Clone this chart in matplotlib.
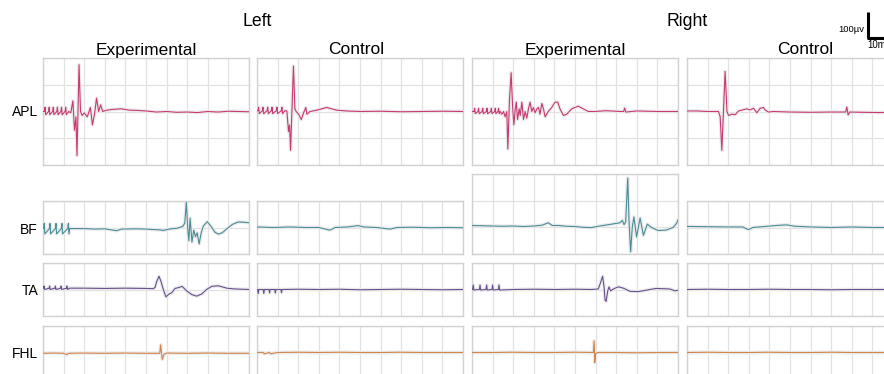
import matplotlib
matplotlib.use("Agg")
import matplotlib.pyplot as plt
from matplotlib.lines import Line2D

plt.rcParams['font.family'] = ['Liberation Sans', 'DejaVu Sans']

# ---------------- data (time in ms, amplitude in units of 100 µV) ----------------
side_labels = ["Left", "Right"]
group_labels = ["Experimental", "Control", "Experimental", "Control"]
muscles = ["APL", "BF", "TA", "FHL"]

# APL
apl_le_t = [0, 0.7, 1.0, 1.3, 2.7, 3.0, 3.3, 4.7, 5.0, 5.3, 6.7, 7.0, 7.3, 8.7, 9.0, 9.3,
            10.7, 11.0, 11.3, 12.5, 13.5, 14.5, 15.3, 16.0, 16.5, 17.5, 18.2, 19.0, 20.0,
            21.5, 23.0, 24.0, 25.0, 26.0, 27.0, 28.0, 29.0, 31, 34, 38, 42, 46, 50, 55,
            60, 65, 70, 75, 80, 85, 90, 95, 100]
apl_le_v = [0, 0, 0.16, -0.12, 0, 0.16, -0.12, 0, 0.16, -0.12, 0, 0.16, -0.12, 0, 0.16, -0.12,
            0, 0.16, -0.12, 0, -0.05, 0.4, -0.7, -0.2, -1.65, 1.75, 0, -0.15, -0.05,
            -0.2, 0.15, -0.5, -0.1, 0.5, 0, 0.25, 0, 0.05, 0.08, 0.1, 0.05, 0.04, 0.02, -0.02,
            0.0, -0.03, -0.02, -0.04, 0.0, -0.02, 0.01, 0.0, -0.01]

apl_lc_t = [0, 0.5, 0.8, 1.1, 2.6, 2.9, 3.2, 4.9, 5.2, 5.5, 7.0, 7.3, 7.6, 9.4, 9.7, 10.0,
            11.8, 12.1, 12.4, 13.5, 14.5, 15.3, 15.8, 16.3, 16.9, 17.7, 18.4, 19.0, 20.2,
            21.5, 22.6, 23.7, 24.2, 25.8, 29.0, 33.9, 38.7, 43.5, 50, 60, 70, 80, 90, 100]
apl_lc_v = [0.03, 0.03, 0.16, -0.08, 0.03, 0.16, -0.08, 0.03, 0.16, -0.08, 0.03, 0.16, -0.08, 0.03, 0.16, -0.08,
            0.03, 0.16, -0.08, 0.03, 0.02, -0.75, -0.5, -1.45, -0.1, 1.7, 0.1, 0.0, -0.1,
            -0.3, -0.05, 0.15, -0.1, 0.0, 0.05, 0.15, 0.05, 0.02, 0.0, 0.01, -0.01, 0.0, 0.01, 0.0]

apl_re_t = [0, 1.0, 1.3, 1.6, 2.9, 3.2, 3.5, 4.9, 5.2, 5.5, 7.0, 7.3, 7.6, 9.1, 9.4, 9.7,
            11.0, 11.3, 11.6, 12.6, 12.9, 13.2, 13.7, 14.5, 15.3, 16.1, 16.9, 17.4, 18.2,
            19.0, 19.7, 20.3, 21.0, 21.5, 22.1, 22.9, 23.4, 24.2, 25.0, 25.8, 26.6, 27.4,
            28.2, 29.0, 29.8, 30.6, 31.5, 32.3, 33.0, 33.9, 34.7, 35.5, 37.0, 38.7, 40.3,
            41.6, 42.7, 44.4, 46.0, 48.4, 51.6, 54.0, 56.5, 59.7, 65, 72, 73.6, 74.1, 74.6,
            80, 90, 100]
apl_re_v = [0, 0, 0.12, -0.08, 0, 0.12, -0.08, 0, 0.12, -0.08, 0, 0.12, -0.08, 0, 0.12, -0.08,
            0, 0.12, -0.08, 0, 0.12, -0.08, 0.0, -0.1, 0, -0.2, 0.0, -1.4, 0.45,
            1.45, 0.2, -0.5, 0.1, 0.35, -0.3, 0.1, -0.15, 0.35, -0.3, 0.0, -0.25, 0.1,
            0.35, 0.0, 0.15, -0.05, 0.1, 0.15, -0.1, 0.3, 0.1, -0.2, 0.0, 0.15, 0.35,
            0.35, 0.1, -0.15, -0.1, 0.1, 0.2, 0.1, 0.0, 0.0, 0.03, 0.0, 0.0, 0.13, -0.02,
            0.02, 0.0, 0.0]

apl_rc_t = [0, 5, 10, 15.3, 16.1, 16.9, 17.7, 18.5, 19.4, 20.2, 21.8, 23.4, 25.0, 29.0,
            30.6, 32.3, 33.9, 35.5, 37.1, 37.9, 39.5, 42.0, 50, 60, 70, 77.0, 77.6, 78.2,
            79.0, 85, 93.5, 100]
apl_rc_v = [0.02, 0.02, 0.0, 0.0, -0.2, -1.45, 0.0, 1.5, 0.0, -0.15, -0.1, -0.12, 0.02, 0.1,
            0.06, 0.12, -0.05, 0.12, 0.15, 0.06, -0.02, 0.0, -0.02, -0.03, -0.02, -0.02, 0.17, -0.13,
            -0.02, -0.03, -0.04, -0.03]

# BF
bf_le_t = [0, 0.3, 0.6, 0.9, 3.1, 3.4, 3.7, 6.0, 6.3, 6.6, 8.9, 9.2, 9.5, 12.0, 12.3, 12.6,
           13, 20, 25, 30, 35.8, 38, 45, 50, 56.8, 58.4, 62, 65, 67.8, 68.8, 69.6, 70.3,
           70.8, 71.4, 72.3, 73.2, 74.0, 74.8, 75.8, 76.8, 77.8, 79.7, 81.5,
           83.5, 85.1, 87, 89.2, 92, 94.8, 97, 100]
bf_le_v = [-0.04, -0.04, 0.15, -0.24, -0.04, 0.15, -0.24, -0.04, 0.15, -0.24, -0.04, 0.15, -0.24, -0.04, 0.15, -0.24,
           -0.04, -0.04, -0.06, -0.05, -0.12, -0.06, -0.05, -0.06, -0.09, -0.11, -0.05, -0.03, 0.04, 0.16, 0.95, -0.1,
           -0.5, 0.35, -0.55, -0.1, -0.35, -0.2, -0.62, -0.2, 0.05, 0.22, 0.05,
           -0.18, -0.25, -0.2, -0.05, 0.12, 0.21, 0.2, 0.18]

bf_lc_t = [0, 8, 16, 24, 30, 35.4, 38, 44, 49, 52, 58, 64.6, 68, 76, 84, 92, 100]
bf_lc_v = [0.02, 0.0, 0.02, 0.0, 0.0, -0.1, 0.0, 0.02, 0.07, 0.02, 0.0, -0.06, 0.0, 0.01, -0.01, 0.0, -0.01]

bf_re_t = [0, 5, 10, 15, 20, 25, 30, 34, 37, 39, 42, 46, 50, 54, 58, 62, 67, 71.8, 73.0,
           73.8, 74.6, 75.6, 76.2, 77.0, 77.8, 78.6, 79.9, 81.6, 83.2, 85.1, 87.0, 90.4,
           94.4, 97.7, 99.3, 100]
bf_re_v = [0.07, 0.06, 0.05, 0.04, 0.05, 0.03, 0.05, 0.08, 0.17, 0.07, 0.07, 0.04, 0.03, 0.0, -0.01, 0.05, 0.11, 0.17, 0.26,
           0.1, 0.2, 1.85, 0.3, -0.92, 0.0, 0.39, -0.36, 0.35, -0.3, 0.12, 0.0, -0.12,
           -0.1, 0.0, 0.15, 0.28]

bf_rc_t = [0, 10, 20, 27, 29.8, 32, 38, 44, 48.4, 52, 60, 70, 80, 90, 100]
bf_rc_v = [0.04, 0.03, 0.02, 0.02, -0.08, 0.0, 0.04, 0.08, 0.1, 0.05, 0.02, 0.0, 0.02, 0.0, 0.0]

# TA
ta_le_t = [0, 0.3, 0.5, 0.8, 3.0, 3.2, 3.5, 5.8, 6.0, 6.3, 8.6, 8.8, 9.1, 11.4, 11.6, 11.9,
           13, 20, 30, 40, 50, 53.5, 54.4, 55.2, 56.3, 57.3, 58.4, 59.7, 61.0, 62.5, 64.1,
           66.2, 67.5, 69.7, 72.2, 74.6, 77.0, 79.4, 81.9, 85.1, 87, 89.2, 93.2, 100]
ta_le_v = [0.05, 0.05, 0.13, 0.0, 0.05, 0.13, 0.0, 0.05, 0.13, 0.0, 0.05, 0.13, 0.0, 0.05, 0.13, 0.0,
           0.05, 0.05, 0.04, 0.05, 0.04, 0.03, 0.08, 0.3, 0.5, 0.3, 0.0, -0.28, -0.18, -0.12, 0.04,
           0.08, 0.12, -0.05, -0.19, -0.25, -0.17, 0.0, 0.12, 0.14, 0.1, 0.05, 0.02, 0.0]

ta_lc_t = [0, 0.3, 0.6, 0.9, 3.0, 3.3, 3.6, 5.8, 6.1, 6.4, 8.6, 8.9, 9.2, 11.6, 11.9, 12.2,
           20, 30, 40, 50, 60, 70, 80, 90, 100]
ta_lc_v = [0.0, 0.0, -0.15, 0.0, 0.0, -0.15, 0.0, 0.0, -0.13, 0.0, 0.0, -0.13, 0.0, 0.0, -0.12, 0.0,
           0.01, 0.0, 0.01, -0.01, 0.0, 0.01, 0.0, -0.01, 0.0]

ta_re_t = [0, 0.3, 0.6, 0.9, 3.6, 3.9, 4.2, 6.8, 7.1, 7.4, 9.7, 10.0, 10.3, 12.8, 13.1, 13.4,
           20, 30, 40, 50, 58, 61.3, 62.5, 63.4, 64.1, 64.6, 65.1, 65.9, 66.5, 67.3, 68.9,
           71.0, 73.5, 76.7, 80.7, 86.4, 89.4, 96, 98.5, 100]
ta_re_v = [0.0, 0.0, 0.17, -0.02, 0.0, 0.17, -0.02, 0.0, 0.17, -0.02, 0.0, 0.17, -0.02, 0.0, 0.17, -0.02,
           0.0, 0.01, 0.0, 0.01, 0.0, 0.02, 0.28, 0.5, 0.1, -0.4, -0.45, -0.05, 0.1, -0.05, 0.03,
           0.1, 0.05, -0.07, -0.08, 0.0, 0.04, 0.02, -0.05, -0.03]

ta_rc_t = [0, 10, 20, 30, 40, 50, 60, 70, 80, 90, 100]
ta_rc_v = [0.0, 0.01, 0.0, 0.0, 0.01, 0.0, 0.0, -0.01, 0.0, 0.0, 0.0]

# FHL
fhl_le_t = [0, 5, 10, 11.5, 12.5, 20, 30, 40, 50, 56.7, 57.1, 57.9, 58.7, 60.0, 70, 80, 90, 100]
fhl_le_v = [-0.03, -0.02, -0.03, -0.08, -0.03, -0.02, -0.03, -0.02, -0.03, -0.03, 0.29, -0.26, -0.07, -0.02, -0.03, -0.02, -0.03, -0.03]

fhl_lc_t = [0, 3, 3.5, 6, 6.5, 10, 20, 30, 40, 50, 60, 70, 80, 90, 100]
fhl_lc_v = [0.0, 0.0, -0.05, 0.0, -0.05, 0.0, 0.01, 0.0, 0.01, 0.0, 0.0, 0.01, 0.0, 0.0, 0.0]

fhl_re_t = [0, 10, 20, 30, 40, 50, 58.9, 59.3, 59.6, 60.0, 61, 70, 80, 90, 100]
fhl_re_v = [0.0, 0.0, 0.01, 0.0, 0.0, 0.01, 0.0, 0.44, -0.38, -0.05, 0.0, 0.0, -0.01, 0.0, 0.0]

fhl_rc_t = [0, 10, 20, 30, 40, 50, 60, 70, 80, 90, 100]
fhl_rc_v = [0.0, 0.01, 0.0, 0.0, 0.01, 0.0, 0.0, 0.01, 0.0, 0.0, 0.0]

colors = {"APL": "#c83a72", "BF": "#4b8c97", "TA": "#67508e", "FHL": "#d4854c"}

traces = {
    ("APL", 0): (apl_le_t, apl_le_v), ("APL", 1): (apl_lc_t, apl_lc_v),
    ("APL", 2): (apl_re_t, apl_re_v), ("APL", 3): (apl_rc_t, apl_rc_v),
    ("BF", 0): (bf_le_t, bf_le_v), ("BF", 1): (bf_lc_t, bf_lc_v),
    ("BF", 2): (bf_re_t, bf_re_v), ("BF", 3): (bf_rc_t, bf_rc_v),
    ("TA", 0): (ta_le_t, ta_le_v), ("TA", 1): (ta_lc_t, ta_lc_v),
    ("TA", 2): (ta_re_t, ta_re_v), ("TA", 3): (ta_rc_t, ta_rc_v),
    ("FHL", 0): (fhl_le_t, fhl_le_v), ("FHL", 1): (fhl_lc_t, fhl_lc_v),
    ("FHL", 2): (fhl_re_t, fhl_re_v), ("FHL", 3): (fhl_rc_t, fhl_rc_v),
}

# ---------------- layout (pixels) ----------------
W, H = 884, 374
fig = plt.figure(figsize=(W / 100, H / 100), dpi=100)

col_x = [43, 257, 472, 687]
panel_w = 206
row_geom = {"APL": (58, 107, -2, 2), "BF": (201, 53, -1, 1),
            "TA": (263, 53, -1, 1), "FHL": (326, 53, -1, 1)}
special = {("BF", 2): (174, 80, -1, 2)}
label_base = {"APL": 116, "BF": 234, "TA": 295, "FHL": 358}


def add_ax(x0, ytop, w, h):
    return fig.add_axes([x0 / W, 1 - (ytop + h) / H, w / W, h / H])


for m in muscles:
    for c in range(4):
        ytop, h, y0, y1 = special.get((m, c), row_geom[m])
        ax = add_ax(col_x[c], ytop, panel_w, h)
        ax.set_xlim(0, 100)
        ax.set_ylim(y0, y1)
        ax.set_xticks(range(0, 101, 10))
        ax.set_yticks(range(y0, y1 + 1))
        ax.grid(True, color="#e2e2e2", lw=0.9)
        ax.set_axisbelow(True)
        ax.tick_params(length=0, labelbottom=False, labelleft=False)
        for s in ax.spines.values():
            s.set_color("#d2d2d2")
            s.set_linewidth(1.0)
        t, v = traces[(m, c)]
        ax.plot(t, v, color="#ebebeb", lw=2.6, solid_joinstyle="round", zorder=2)
        ax.plot(t, v, color=colors[m], lw=0.8, zorder=3)
    fig.text(38 / W, 1 - label_base[m] / H, m, ha="right", va="baseline", fontsize=10)

# titles
fig.text(257 / W, 1 - 26 / H, side_labels[0], ha="center", va="baseline", fontsize=12.7)
fig.text(687 / W, 1 - 26 / H, side_labels[1], ha="center", va="baseline", fontsize=12.7)
group_x = [146, 356, 575, 805]
for gx, g in zip(group_x, group_labels):
    fig.text(gx / W, 1 - 54.5 / H, g, ha="center", va="baseline", fontsize=12.5)

# scale bar: 100 µV (1 grid unit) x 10 ms (1 grid column)
fig.add_artist(Line2D([867.7 / W, 867.7 / W], [1 - 12 / H, 1 - 37.5 / H], color="black", lw=2.2,
                      solid_capstyle="butt"))
fig.add_artist(Line2D([866.6 / W, 888 / W], [1 - 37.5 / H, 1 - 37.5 / H], color="black", lw=2.2,
                      solid_capstyle="butt"))
fig.text(864 / W, 1 - 32 / H, "100µv", ha="right", va="baseline", fontsize=6.8)
fig.text(867 / W, 1 - 48.5 / H, "10ms", ha="left", va="baseline", fontsize=7)

fig.savefig("out.png", dpi=100)
